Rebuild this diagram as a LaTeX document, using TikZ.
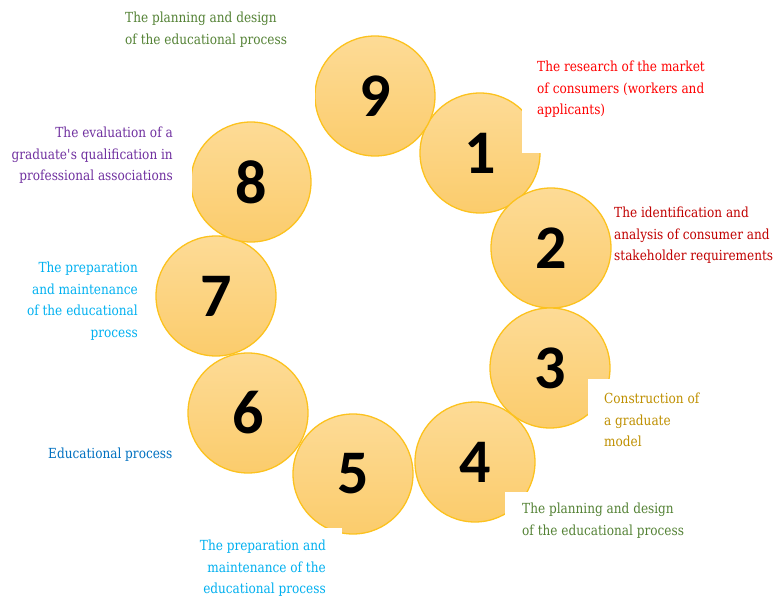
\documentclass[tikz,border=0pt]{standalone}
\usepackage{fontspec}
\setmainfont{DejaVu Serif}
\newfontfamily\notefont{DejaVu Serif}[FakeStretch=0.87]
\newfontfamily\digitfont{Carlito}
\definecolor{ring}{RGB}{252,194,30}
\definecolor{ringtop}{RGB}{253,219,150}
\definecolor{ringbottom}{RGB}{251,204,108}
\definecolor{plangreen}{RGB}{84,130,53}
\definecolor{darkred}{RGB}{192,0,0}
\definecolor{gold}{RGB}{191,144,0}
\definecolor{skyblue}{RGB}{0,176,240}
\definecolor{deepblue}{RGB}{0,112,192}
\definecolor{violet}{RGB}{112,48,160}

\begin{document}
\begin{tikzpicture}[x=1pt,y=-1pt]
		\tikzstyle{stage} = [circle,draw=ring,line width=1.3pt,top color=ringtop,bottom color=ringbottom,minimum size=120pt,inner sep=0pt,font=\digitfont\bfseries\fontsize{62}{62}\selectfont]
		\tikzstyle{note} = [inner sep=0pt,font=\notefont\fontsize{13.9}{21.5}\selectfont]
		\tikzstyle{cut} = [fill=white]
		
		\useasboundingbox (0,0) rectangle (777,596);
		
		\node[stage](S1) at (480,153) {1};
		\node[stage](S2) at (551,248) {2};
		\node[stage](S3) at (550,368) {3};
		\node[stage](S4) at (475,462) {4};
		\node[stage](S5) at (353,474) {5};
		\node[stage](S6) at (248,413) {6};
		\node[stage](S7) at (216,296) {7};
		\node[stage](S8) at (251,182) {8};
		\node[stage](S9) at (375,96) {9};
		
		\fill[cut] (120,0) rectangle (315,105);
		\fill[cut] (522,50) rectangle (777,153);
		\fill[cut] (588,379) rectangle (777,450);
		\fill[cut] (505,492) rectangle (777,545);
		\fill[cut] (190,528) rectangle (342,596);
		\fill[cut] (0,120) rectangle (192,200);
		
		\node[note,text=plangreen,align=left,anchor=north west](N9) at (125,12) {The planning and design\\of the educational process};
		\node[note,text=red,align=left,anchor=north west](N1) at (537,61) {The research of the market\\of consumers (workers and\\applicants)};
		\node[note,text=darkred,align=left,anchor=north west](N2) at (614,207) {The identification and\\analysis of consumer and\\stakeholder requirements};
		\node[note,text=gold,align=left,anchor=north west](N3) at (604,393) {Construction of\\a graduate\\model};
		\node[note,text=plangreen,align=left,anchor=north west](N4) at (522,503) {The planning and design\\of the educational process};
		\node[note,text=skyblue,align=right,anchor=north east](N5) at (326,540) {The preparation and\\maintenance of the\\educational process};
		\node[note,text=deepblue,align=left,anchor=north west](N6) at (48,448) {Educational process};
		\node[note,text=skyblue,align=right,anchor=north east](N7) at (138,262) {The preparation\\and maintenance\\of the educational\\process};
		\node[note,text=violet,align=right,anchor=north east](N8) at (173,127) {The evaluation of a\\graduate\textquotesingle s qualification in\\professional associations};
		\end{tikzpicture}
\end{document}
